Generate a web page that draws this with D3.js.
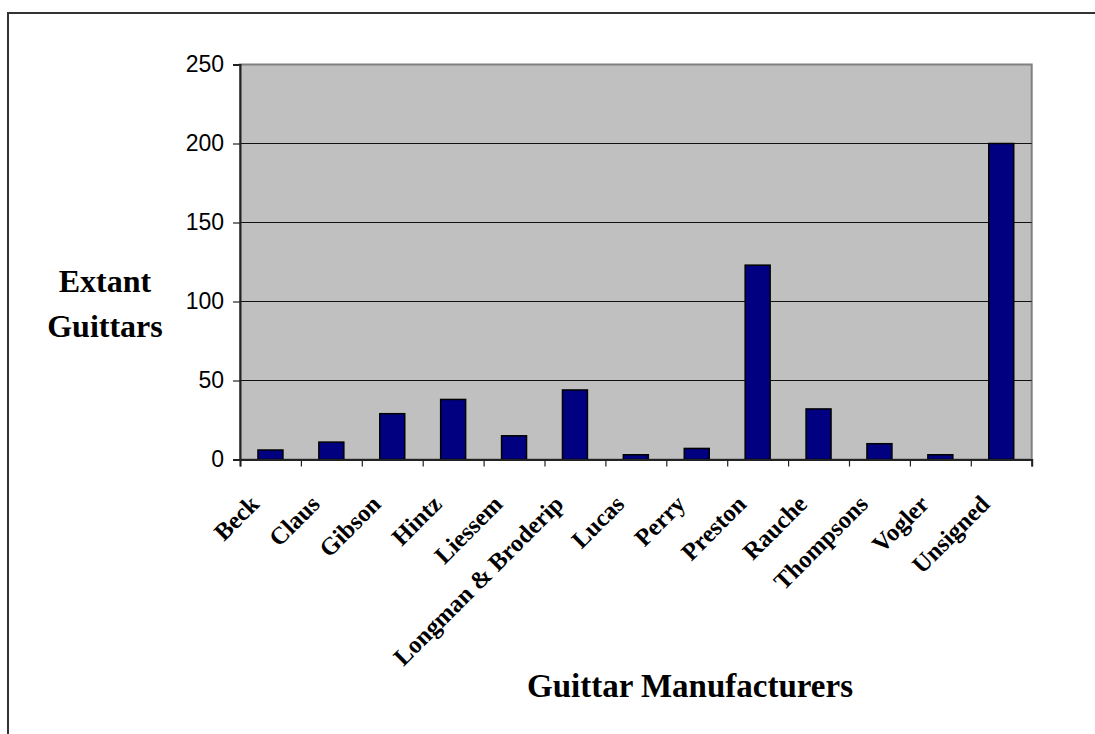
<!DOCTYPE html>
<html>
<head>
<meta charset="utf-8">
<script src="https://cdn.jsdelivr.net/npm/d3@7"></script>
<style>
  body { margin: 0; background: #fff; overflow: hidden; }
  svg { display: block; }
</style>
</head>
<body>
<svg id="chart" width="1095" height="734"></svg>
<script>
const manufacturers = ["Beck", "Claus", "Gibson", "Hintz", "Liessem", "Longman & Broderip",
  "Lucas", "Perry", "Preston", "Rauche", "Thompsons", "Vogler", "Unsigned"]
const guitarCounts = [6, 11, 29, 38, 15, 44, 3, 7, 123, 32, 10, 3, 200]
const yTicks = [0, 50, 100, 150, 200, 250]

const width = 1095, height = 734
const plot = {left: 240, right: 1031.7, top: 64.5, bottom: 459.5}
const serif = "'Liberation Serif', 'Times New Roman', serif"
const sans = "'Liberation Sans', Arial, sans-serif"

const svg = d3.select("#chart")

// outer frame: only top and left edges fall inside the window
svg.append("path")
  .attr("d", `M${width},13 H8 V${height}`)
  .attr("fill", "none").attr("stroke", "#333").attr("stroke-width", 2)

const x = d3.scaleBand()
  .domain(manufacturers)
  .range([plot.left, plot.right])
  .paddingInner(0.59)
  .paddingOuter(0.295)
const xEdge = d3.scaleLinear()
  .domain([0, manufacturers.length])
  .range([plot.left, plot.right])
const y = d3.scaleLinear()
  .domain([0, 250])
  .range([plot.bottom, plot.top])

// plot background
svg.append("rect")
  .attr("x", plot.left).attr("y", plot.top)
  .attr("width", plot.right - plot.left).attr("height", plot.bottom - plot.top)
  .attr("fill", "#c0c0c0").attr("stroke", "#808080").attr("stroke-width", 2)

// gridlines
svg.append("g")
  .selectAll("line")
  .data(yTicks.filter(d => d > 0 && d < 250))
  .join("line")
    .attr("x1", plot.left).attr("x2", plot.right)
    .attr("y1", d => y(d)).attr("y2", d => y(d))
    .attr("stroke", "#111").attr("stroke-width", 1.2)

// bars
svg.append("g")
  .selectAll("rect")
  .data(guitarCounts)
  .join("rect")
    .attr("x", (d, i) => x(manufacturers[i]))
    .attr("y", d => y(d))
    .attr("width", x.bandwidth())
    .attr("height", d => y(0) - y(d))
    .attr("fill", "#000080")
    .attr("stroke", "#000").attr("stroke-width", 1.5)

// y axis
const yAxis = svg.append("g")
  .attr("transform", `translate(${plot.left}, 0)`)
  .call(d3.axisLeft(y).tickValues(yTicks).tickSize(7).tickPadding(9))
yAxis.select(".domain").attr("stroke", "#222").attr("stroke-width", 2)
yAxis.selectAll(".tick line").attr("stroke", "#222").attr("stroke-width", 1.2)
yAxis.selectAll("text")
  .attr("font-family", sans).attr("font-size", 23).attr("fill", "#000")

// x axis (ticks between categories)
const xAxis = svg.append("g")
  .attr("transform", `translate(0, ${plot.bottom})`)
  .call(d3.axisBottom(xEdge).tickValues(d3.range(manufacturers.length + 1)).tickSize(7).tickFormat(""))
xAxis.select(".domain").attr("stroke", "#222").attr("stroke-width", 2)
xAxis.selectAll(".tick line").attr("stroke", "#222").attr("stroke-width", 1.2)

// rotated category labels
svg.append("g")
  .selectAll("text")
  .data(manufacturers)
  .join("text")
    .attr("transform", d => `translate(${x(d) + x.bandwidth() / 2 - 10}, ${plot.bottom + 46}) rotate(-45)`)
    .attr("text-anchor", "end")
    .attr("font-family", serif).attr("font-weight", "bold").attr("font-size", 24.5)
    .text(d => d)

// axis titles
const yTitle = svg.append("text")
  .attr("text-anchor", "middle")
  .attr("font-family", serif).attr("font-weight", "bold").attr("font-size", 32)
yTitle.append("tspan").attr("x", 105).attr("y", 291.7).text("Extant")
yTitle.append("tspan").attr("x", 105).attr("y", 336.7).text("Guittars")

svg.append("text")
  .attr("x", 690).attr("y", 696.7)
  .attr("text-anchor", "middle")
  .attr("font-family", serif).attr("font-weight", "bold").attr("font-size", 33)
  .text("Guittar Manufacturers")
</script>
</body>
</html>
